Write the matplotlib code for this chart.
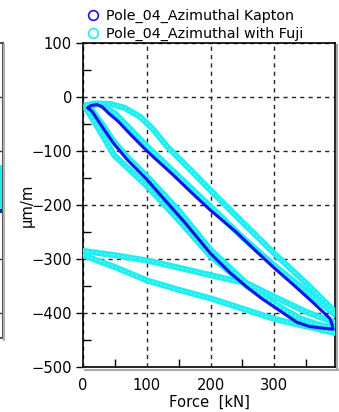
import matplotlib
matplotlib.use("Agg")
import matplotlib.pyplot as plt
from matplotlib.lines import Line2D
import numpy as np

plt.rcParams['font.family'] = ['DejaVu Sans']

# ---------------- data ----------------
kapton_force = [8, 15, 30, 48, 70, 101, 130, 160, 200, 230, 257, 280, 300, 320, 335, 355, 375, 392,
                390, 387, 360, 330, 300, 270, 240, 200, 170, 140, 101, 75, 55, 40, 30, 22, 12, 8]
kapton_strain = [-20, -28, -55, -86, -117, -154, -193, -233, -290, -325, -352, -373, -389, -405, -417, -425, -428, -430,
                 -420, -410, -380, -348, -317, -284, -250, -210, -177, -143, -101, -70, -45, -30, -18, -14, -16, -20]

fuji_upper_force = [5, 20, 43, 65, 90, 110, 132, 160, 200, 250, 300, 350, 380, 395]
fuji_upper_strain = [-15, -12, -13, -20, -37, -60, -92, -125, -173, -232, -290, -345, -380, -398]

fuji_mid_force = [10, 25, 50, 101, 150, 200, 250, 300, 350, 395]
fuji_mid_strain = [-18, -13, -30, -92, -147, -203, -260, -312, -360, -403]

fuji_lowa_force = [5, 15, 30, 48, 70, 101, 150, 200, 257, 300, 340, 370, 395]
fuji_lowa_strain = [-18, -26, -50, -82, -112, -148, -210, -283, -346, -383, -410, -422, -428]

fuji_lowb_force = [5, 20, 49, 101, 150, 200, 257, 300, 340, 370, 395]
fuji_lowb_strain = [-22, -50, -108, -166, -228, -295, -350, -385, -415, -430, -437]

fuji_base1_force = [0, 50, 101, 150, 200, 230, 257, 300, 350, 395]
fuji_base1_strain = [-285, -293, -303, -316, -330, -338, -345, -370, -398, -418]

fuji_base2_force = [0, 50, 101, 150, 200, 250, 300, 350, 395]
fuji_base2_strain = [-293, -315, -340, -357, -373, -392, -411, -425, -435]

fuji_branches = [
    (fuji_upper_force, fuji_upper_strain),
    (fuji_mid_force, fuji_mid_strain),
    (fuji_lowa_force, fuji_lowa_strain),
    (fuji_lowb_force, fuji_lowb_strain),
    (fuji_base1_force, fuji_base1_strain),
    (fuji_base2_force, fuji_base2_strain),
]

x_ticks = [0, 100, 200, 300]
y_ticks = [-500, -400, -300, -200, -100, 0, 100]
series_labels = ["Pole_04_Azimuthal Kapton", "Pole_04_Azimuthal with Fuji"]

# neighbour panel (partially visible at the left edge)
nb_grid = [0, -100, -300, -400]
nb_cyan = (-207, -126)
nb_blue = (-214, -207)

BLUE = '#1515e6'
CYAN = '#20eef0'

W, H = 339, 412
fig = plt.figure(figsize=(W / 100, H / 100), dpi=100)

# ---------------- neighbour sliver ----------------
nb_left, nb_right, nb_top, nb_bot = -100, 2.5, 43, 338
nb = fig.add_axes([nb_left / W, 1 - nb_bot / H, (nb_right - nb_left) / W, (nb_bot - nb_top) / H])
nb.set_xlim(0, 1)
nb.set_ylim(100 - (nb_bot - nb_top) / 0.54, 100)
nb.fill_between([0, 1], nb_cyan[0], nb_cyan[1], color=CYAN, lw=0)
nb.fill_between([0, 1], nb_blue[0], nb_blue[1], color=BLUE, lw=0)
for g in nb_grid:
    nb.axhline(g, color='#333333', lw=1, ls=(0, (3, 3)))
nb.set_xticks([]); nb.set_yticks([])
for s in nb.spines.values():
    s.set_color('#555555'); s.set_linewidth(1.5)
fig.add_artist(Line2D([4.2 / W, 4.2 / W], [1 - 45 / H, 1 - 340 / H], transform=fig.transFigure,
                      color='#b0b0b0', lw=1.5))

# ---------------- main axes ----------------
L, R, T, B = 83, 335, 43, 367
ax = fig.add_axes([L / W, 1 - B / H, (R - L) / W, (B - T) / H])
ax.set_xlim(0, 395)
ax.set_ylim(-500, 100)

for i, (fx, fy) in enumerate(fuji_branches):
    ax.plot(fx, fy, color=CYAN, lw=4.4, solid_capstyle='round', solid_joinstyle='round', zorder=3)
for i, (fx, fy) in enumerate(fuji_branches):
    ax.plot(fx, fy, color='white', lw=0.9, ls=(0, (1, 2.5)), alpha=0.45, zorder=3.5)
ax.plot(kapton_force, kapton_strain, color=BLUE, lw=2.2, solid_joinstyle='round', zorder=4)

ax.set_xticks(x_ticks)
ax.set_yticks(y_ticks)
ax.set_xticks([50, 150, 250, 350], minor=True)
ax.set_yticks(np.arange(-450, 100, 100), minor=True)
ax.grid(True, which='major', color='#222222', lw=1, ls=(0, (3, 3)))
ax.tick_params(axis='y', which='major', direction='out', length=5, width=1, pad=3, labelsize=10.6)
ax.tick_params(axis='x', which='major', direction='out', length=0, pad=8, labelsize=10.6)
ax.tick_params(which='minor', direction='in', length=6, width=1)
for s in ax.spines.values():
    s.set_color('black'); s.set_linewidth(1.2)

ax.set_xlabel("Force  [kN]", fontsize=10.6)
ax.xaxis.set_label_coords(0.5, -0.085)
ax.set_ylabel("μm/m", fontsize=10.6)
ax.yaxis.set_label_coords(-0.19, 0.5)

# frame shadow
fig.add_artist(Line2D([337.2 / W, 337.2 / W], [1 - 45 / H, 1 - 370 / H], transform=fig.transFigure,
                      color='#a8a8a8', lw=1.5))
fig.add_artist(Line2D([85 / W, 338 / W], [1 - 369.5 / H, 1 - 369.5 / H], transform=fig.transFigure,
                      color='#a8a8a8', lw=1.5))

handles = [Line2D([], [], ls='none', marker='o', mfc='none', mec=BLUE, mew=1.2, ms=7),
           Line2D([], [], ls='none', marker='o', mfc='none', mec=CYAN, mew=1.2, ms=7)]
fig.legend(handles, series_labels, loc='upper left', bbox_to_anchor=(80 / W, 1 - 3 / H),
           frameon=False, fontsize=10.3, handletextpad=0.45, labelspacing=0.28, borderaxespad=0,
           handlelength=1.0)

fig.savefig("out.png", dpi=100)
